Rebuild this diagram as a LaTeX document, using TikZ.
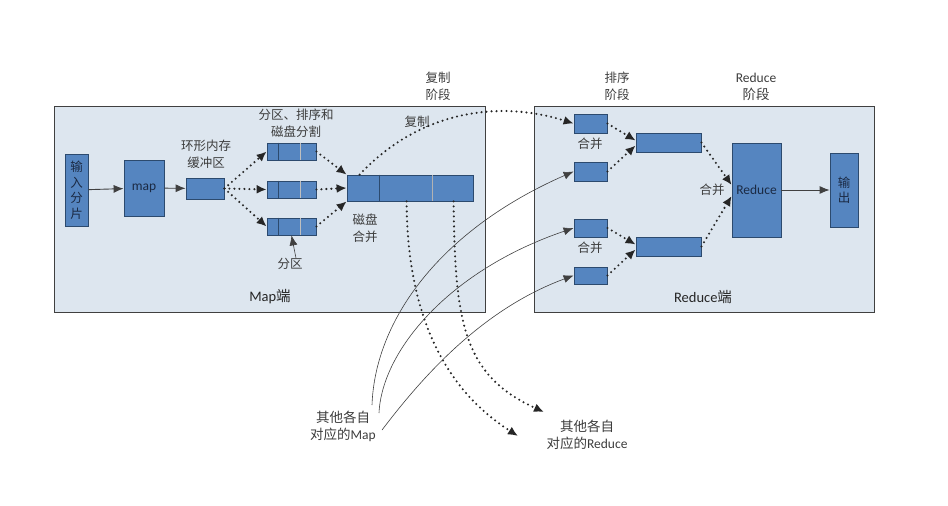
\documentclass[tikz,border=0pt]{standalone}
\usepackage{fontspec}
\setmainfont{Carlito}
\newfontfamily\cjk{Noto Sans CJK SC}
\usepackage{tikz}
\usetikzlibrary{arrows.meta}
\definecolor{panelbg}{HTML}{DDE6EF}
\definecolor{blkfill}{HTML}{5585C0}
\definecolor{blkline}{HTML}{2C4A6E}
\definecolor{txtgray}{HTML}{3C3C3C}
\definecolor{txtnavy}{HTML}{1B2A44}

\begin{document}
\begin{tikzpicture}[x=1pt,y=-1pt,
  panel/.style={draw=black!75,fill=panelbg,line width=0.8pt,inner sep=0pt},
  blk/.style={draw=blkline,fill=blkfill,line width=0.8pt,inner sep=0pt,text=txtnavy},
  lbl/.style={text=txtgray,font=\fontsize{13.5}{17}\selectfont,align=center,inner sep=0pt},
  cn/.style={lbl,font=\fontsize{12.5}{17}\selectfont\cjk},
  dotarr/.style={black!85,line width=2.3pt,dash pattern=on 0pt off 5pt,line cap=round,-{Latex[length=10pt,width=9pt]}},
  solarr/.style={black!75,line width=0.9pt,-{Latex[length=10pt,width=8pt]}},
  thinarr/.style={black!75,line width=0.6pt,-{Latex[length=10pt,width=8pt]}}]
  \useasboundingbox (0,0) rectangle (948,506);
  \node[panel,minimum width=431pt,minimum height=206pt] (mapside) at (269.5,209) {};
  \node[panel,minimum width=340pt,minimum height=206pt] (redside) at (704,209) {};
  \node[blk,minimum width=23pt,minimum height=72pt,font=\fontsize{12.5}{15.5}\selectfont\cjk,align=center] (input) at (76.5,190) {输\\入\\分\\片};
  \node[blk,minimum width=40pt,minimum height=56pt,font=\fontsize{13.5}{14}\selectfont] (mapbox) at (144,188) {map};
  \node[blk,minimum width=38pt,minimum height=21pt] (buffer) at (205,188.5) {};
  \node[blk,minimum width=49pt,minimum height=17pt] (part1) at (291.5,151.5) {};
  \node[blk,minimum width=49pt,minimum height=17pt] (part2) at (291.5,189.5) {};
  \node[blk,minimum width=49pt,minimum height=17pt] (part3) at (291.5,226.5) {};
  \foreach \p in {part1,part2,part3} {
    \draw[blkline,line width=0.8pt] ([xshift=12pt]\p.north west) -- ([xshift=12pt]\p.south west);
    \draw[black!25,line width=0.8pt] ([xshift=34pt]\p.north west) -- ([xshift=34pt]\p.south west);
  }
  \node[blk,minimum width=126pt,minimum height=26pt] (merge) at (410,188) {};
  \draw[blkline,line width=0.8pt] ([xshift=33pt]merge.north west) -- ([xshift=33pt]merge.south west);
  \draw[black!30,line width=0.8pt] ([xshift=86pt]merge.north west) -- ([xshift=86pt]merge.south west);
  \node[blk,minimum width=33pt,minimum height=19pt] (s1) at (590.5,123.5) {};
  \node[blk,minimum width=33pt,minimum height=19pt] (s2) at (590.5,171.5) {};
  \node[blk,minimum width=33pt,minimum height=18pt] (s3) at (590.5,228) {};
  \node[blk,minimum width=33pt,minimum height=17pt] (s4) at (590.5,275.5) {};
  \node[blk,minimum width=65pt,minimum height=19pt] (m1) at (668.5,142.5) {};
  \node[blk,minimum width=65pt,minimum height=19pt] (m2) at (668.5,246.5) {};
  \node[blk,minimum width=49pt,minimum height=94pt,font=\fontsize{13.5}{14}\selectfont] (reduce) at (756.5,190) {Reduce};
  \node[blk,minimum width=28pt,minimum height=74pt,font=\fontsize{12.5}{15.5}\selectfont\cjk,align=center] (output) at (844,190) {输\\出};

  \node[cn] (bufferlbl) at (206,154.5) {环形内存\\缓冲区};
  \node[cn] (partlbl) at (296,123.5) {分区、排序和\\磁盘分割};
  \node[cn] (copystage) at (438,86.5) {复制\\阶段};
  \node[cn] (sortstage) at (617,86.5) {排序\\阶段};
  \node[lbl] (redstage) at (756,86.5) {Reduce\\{\cjk 阶段}};
  \node[cn] (copylbl) at (417,122) {复制};
  \node[cn] (mergelbl) at (365,228) {磁盘\\合并};
  \node[cn] (fqlbl) at (290,264) {分区};
  \node[lbl,text=black!85,font=\fontsize{14.5}{17}\selectfont] (maplbl) at (270,297) {Map{\cjk 端}};
  \node[cn] (hb1) at (590,144) {合并};
  \node[cn] (hb2) at (590,248) {合并};
  \node[cn] (hb3) at (712,190) {合并};
  \node[lbl,text=black!85,font=\fontsize{14.5}{17}\selectfont] (redlbl) at (703,297) {Reduce{\cjk 端}};
  \node[lbl] (othermap) at (343,426.5) {{\cjk 其他各自}\\{\cjk 对应的}Map};
  \node[lbl] (otherred) at (587,434.5) {{\cjk 其他各自}\\{\cjk 对应的}Reduce};

  \coordinate (tipA) at (518,436);
  \coordinate (tipB) at (544,412);
  \coordinate (src1) at (372,405);
  \coordinate (src2) at (379,413);
  \coordinate (src3) at (382,430);

  \draw[solarr] (input) -- (mapbox);
  \draw[solarr] (mapbox) -- (buffer);
  \foreach \p in {part1,part2,part3}
    \draw[dotarr] (buffer.east) -- (\p.west);
  \draw[dotarr] (part1.east) -- (merge.north west);
  \draw[dotarr] (part2.east) -- (merge.west);
  \draw[dotarr] (part3.east) -- (merge.south west);
  \draw[thinarr] ([xshift=6pt]fqlbl.north) -- (part3.south);
  \draw[dotarr] ([xshift=13pt]merge.north west) .. controls (420,110) and (500,100) .. (s1.west);
  \draw[dotarr] ([xshift=60pt]merge.south west) .. controls (407,290) and (430,380) .. (tipA);
  \draw[dotarr] ([xshift=107pt]merge.south west) .. controls (455,320) and (462,375) .. (tipB);
  \draw[thinarr] (src1) .. controls (375,320) and (440,230) .. (s2.west);
  \draw[thinarr] (src2) .. controls (382,350) and (450,270) .. (s3.west);
  \draw[thinarr] (src3) .. controls (420,380) and (480,310) .. (s4.west);
  \draw[dotarr] (s1.east) -- ([yshift=2pt]m1.west);
  \draw[dotarr] (s2.east) -- ([yshift=-3pt]m1.west);
  \draw[dotarr] (s3.east) -- ([yshift=2pt]m2.west);
  \draw[dotarr] (s4.east) -- ([yshift=-3pt]m2.west);
  \draw[dotarr] (m1.east) -- ([yshift=5pt]reduce.west);
  \draw[dotarr] (m2.east) -- ([yshift=-6pt]reduce.west);
  \draw[solarr] (reduce) -- (output);
\end{tikzpicture}
\end{document}
